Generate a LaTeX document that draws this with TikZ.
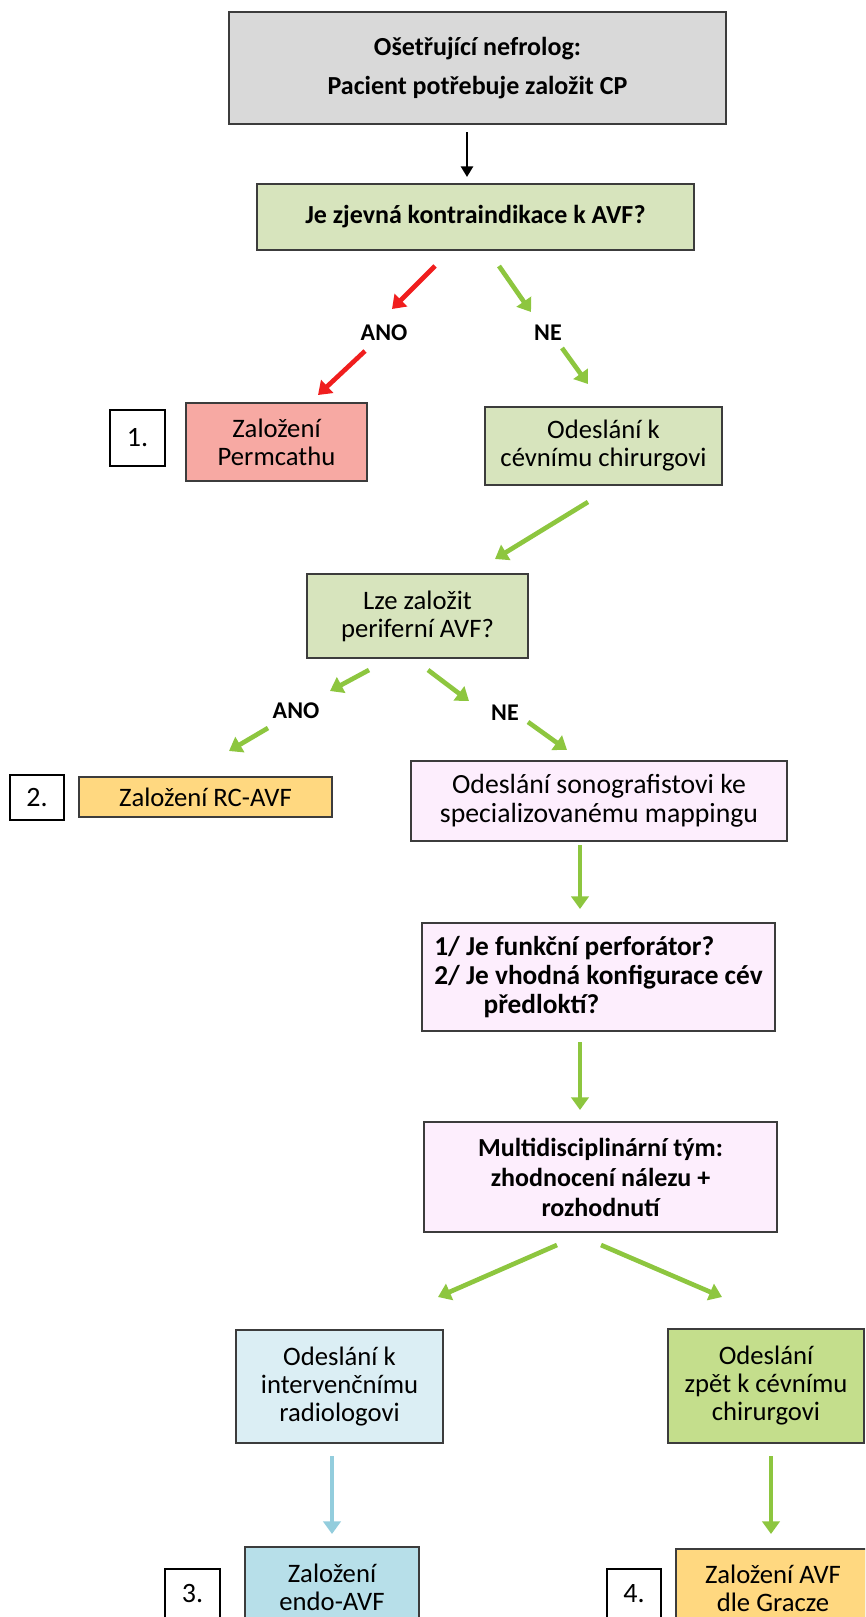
\documentclass[tikz,border=0pt]{standalone}
\usepackage{fontspec}
\setmainfont{Carlito}
\usetikzlibrary{arrows.meta,shadows}
\definecolor{cgrey}{HTML}{D9D9D9}
\definecolor{cgreenl}{HTML}{D7E4BD}
\definecolor{cpink}{HTML}{F7A9A3}
\definecolor{cyellow}{HTML}{FFD880}
\definecolor{clav}{HTML}{FDEEFD}
\definecolor{cbluel}{HTML}{DBEEF4}
\definecolor{cblue2}{HTML}{B7DFE9}
\definecolor{cgreen2}{HTML}{C4DE8C}
\definecolor{boxedge}{HTML}{3C3C3C}
\definecolor{agreen}{HTML}{8DC63F}
\definecolor{ared}{HTML}{F01E1E}
\definecolor{ablue}{HTML}{93CDDD}
\begin{document}
\begin{tikzpicture}[x=0.75pt,y=-0.75pt,
  sz/.style 2 args={minimum width=#1*0.75pt, minimum height=#2*0.75pt},
  box/.style={draw=boxedge, line width=1.4pt, inner sep=0pt, align=center,
    font=\fontsize{20}{21}\selectfont,
    drop shadow={shadow xshift=1.1pt, shadow yshift=-1.1pt, fill=black!60, opacity=0.5}},
  bbox/.style={box, font=\fontsize{19.5}{21}\selectfont\bfseries},
  numbox/.style={draw=black, line width=1.1pt, fill=white, inner sep=0pt,
    font=\fontsize{21}{22}\selectfont},
  lbl/.style={font=\fontsize{18}{20}\selectfont\bfseries, inner sep=1pt},
  garrow/.style={draw=agreen, line width=3.5pt, -{Triangle[length=9.5pt,width=13pt]}},
  rarrow/.style={garrow, draw=ared},
  barrow/.style={garrow, draw=ablue},
  karrow/.style={draw=black, line width=2.2pt, -{Triangle[length=8pt,width=9pt]}}
]
\useasboundingbox (0,0) rectangle (865,1617);
\clip (0,0) rectangle (865,1617);

% boxes
\node[box, fill=cgrey, sz={497}{112}, font=\fontsize{19.5}{29}\selectfont\bfseries] (top) at (477.5,68)
  {Ošetřující nefrolog:\\Pacient potřebuje založit CP};
\node[bbox, fill=cgreenl, sz={437}{66}] (q1) at (475.5,217) {Je zjevná kontraindikace k AVF?};
\node[numbox, sz={55}{56}] (n1) at (137.5,438) {1.};
\node[box, fill=cpink, sz={181}{78}] (perm) at (276.5,442) {Založení\\Permcathu};
\node[box, fill=cgreenl, sz={237}{78}] (ref1) at (603.5,446) {Odeslání k\\cévnímu chirurgovi};
\node[box, fill=cgreenl, sz={221}{84}] (q2) at (417.5,616) {Lze založit\\periferní AVF?};
\node[numbox, sz={54}{45}] (n2) at (37,797.5) {2.};
\node[box, fill=cyellow, sz={253}{40}] (rc) at (205.5,797) {Založení RC-AVF};
\node[box, fill=clav, sz={376}{80}, font=\fontsize{20.8}{22}\selectfont] (sono) at (599,801)
  {Odeslání sonografistovi ke\\specializovanému mappingu};
\node[bbox, fill=clav, sz={353}{108}, align=left, font=\fontsize{20.5}{21.5}\selectfont\bfseries] (q3) at (598.5,977)
  {1/ Je funkční perforátor?\\2/ Je vhodná konfigurace cév\\\hspace*{37pt}předloktí?};
\node[bbox, fill=clav, sz={353}{110}, font=\fontsize{19.5}{22.5}\selectfont\bfseries] (multi) at (600.5,1177)
  {Multidisciplinární tým:\\zhodnocení nálezu +\\rozhodnutí};
\node[box, fill=cbluel, sz={207}{113}] (rad) at (339.5,1386.5) {Odeslání k\\intervenčnímu\\radiologovi};
\node[box, fill=cgreen2, sz={196}{114}] (zpet) at (766,1386) {Odeslání\\zpět k cévnímu\\chirurgovi};
\node[numbox, sz={55}{50}] (n3) at (192.5,1594) {3.};
\node[box, fill=cblue2, sz={174}{80}] (endo) at (332,1587) {Založení\\endo-AVF};
\node[numbox, sz={54}{50}] (n4) at (634,1594) {4.};
\node[box, fill=cyellow, sz={194}{78}] (gr) at (773,1588) {Založení AVF\\dle Gracze};

% labels
\node[lbl] (ano1) at (384,333) {ANO};
\node[lbl] (ne1) at (548,333) {NE};
\node[lbl] (ano2) at (296,711) {ANO};
\node[lbl] (ne2) at (505,713) {NE};

% arrow end points
\coordinate (k1) at (467,132); \coordinate (k2) at (467,177);
\coordinate (r1a) at (435,266); \coordinate (r1b) at (392,309);
\coordinate (r2a) at (365,351); \coordinate (r2b) at (318,395);
\coordinate (g1a) at (499,266); \coordinate (g1b) at (531,312);
\coordinate (g2a) at (562,348); \coordinate (g2b) at (588,384);
\coordinate (g3a) at (588,502); \coordinate (g3b) at (495,559);
\coordinate (l1a) at (369,670); \coordinate (l1b) at (330,691);
\coordinate (l2a) at (268,728); \coordinate (l2b) at (229,751);
\coordinate (p1a) at (428,670); \coordinate (p1b) at (469,701);
\coordinate (p2a) at (528,722); \coordinate (p2b) at (567,750);
\coordinate (s1a) at (580,845); \coordinate (s1b) at (580,909);
\coordinate (s2a) at (580,1042); \coordinate (s2b) at (580,1110);
\coordinate (m1a) at (557,1245); \coordinate (m1b) at (438,1297);
\coordinate (m2a) at (601,1245); \coordinate (m2b) at (722,1297);
\coordinate (b1a) at (332,1456); \coordinate (b1b) at (332,1534);
\coordinate (b2a) at (771,1456); \coordinate (b2b) at (771,1534);

% arrows
\draw[karrow] (k1) -- (k2);
\draw[rarrow] (r1a) -- (r1b);
\draw[rarrow] (r2a) -- (r2b);
\draw[garrow] (g1a) -- (g1b);
\draw[garrow] (g2a) -- (g2b);
\draw[garrow] (g3a) -- (g3b);
\draw[garrow] (l1a) -- (l1b);
\draw[garrow] (l2a) -- (l2b);
\draw[garrow] (p1a) -- (p1b);
\draw[garrow] (p2a) -- (p2b);
\draw[garrow] (s1a) -- (s1b);
\draw[garrow] (s2a) -- (s2b);
\draw[garrow] (m1a) -- (m1b);
\draw[garrow] (m2a) -- (m2b);
\draw[barrow] (b1a) -- (b1b);
\draw[garrow] (b2a) -- (b2b);
\end{tikzpicture}
\end{document}
